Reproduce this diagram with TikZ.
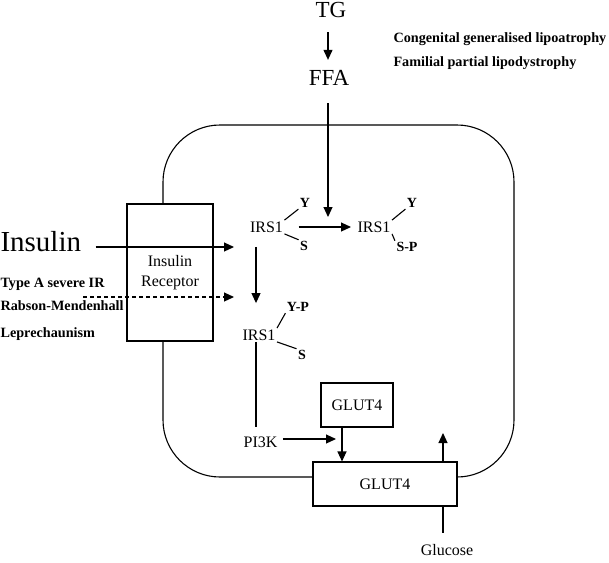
\documentclass[tikz,border=0pt]{standalone}
\usepackage{fontspec}
\setmainfont{Liberation Serif}
\usetikzlibrary{arrows.meta}

\begin{document}
\begin{tikzpicture}[x=1pt, y=-1pt,
    line width=1.1pt,
    >={Triangle[length=10pt,width=9pt]},
    every node/.style={inner sep=1pt, font=\fontsize{16}{20}\selectfont},
    bigtext/.style={font=\fontsize{23}{25}\selectfont},
    hugetext/.style={font=\fontsize{29}{31}\selectfont, inner sep=0pt},
    note/.style={font=\bfseries\fontsize{14.2}{16}\selectfont, anchor=base west, inner sep=0pt},
    site/.style={font=\bfseries\fontsize{14}{15}\selectfont},
    box/.style={draw, fill=white, inner sep=0pt, align=center}]

\useasboundingbox (0,0) rectangle (609,562);

% cell
\draw[rounded corners=57pt] (163,125) rectangle (514,477);

\node[bigtext] (tg) at (331,10) {TG};
\node[bigtext] (ffa) at (329,78) {FFA};
\node[note] (cgl) at (393,42) {Congenital generalised lipoatrophy};
\node[note] (fpl) at (393,66) {Familial partial lipodystrophy};

\node[hugetext, anchor=west] (insulin) at (0,242) {Insulin};
\node[note] (typea) at (0,287) {Type A severe IR};
\node[note] (rabson) at (0,310) {Rabson-Mendenhall};
\node[note] (lep) at (0,337) {Leprechaunism};

\node[box, minimum width=86pt, minimum height=137pt] (rec) at (170,272.5) {Insulin\\Receptor};

\node (irsa) at (266.5,227) {IRS1};
\node[site] (ya) at (305,203) {Y};
\node[site] (sa) at (304,246) {S};

\node (irsb) at (374,227) {IRS1};
\node[site] (yb) at (412,203) {Y};
\node[site] (spb) at (407,247) {S-P};

\node (irsc) at (259,335) {IRS1};
\node[site] (ypc) at (298,307) {Y-P};
\node[site] (sc) at (302,355) {S};

\node (pik) at (260.5,442) {PI3K};
\node[box, minimum width=72pt, minimum height=44pt] (glutsm) at (357,405) {GLUT4};
\node[box, minimum width=144pt, minimum height=44pt] (glutbig) at (385,484) {GLUT4};
\node (glucose) at (447,550) {Glucose};

\coordinate (ffaend) at (328,217);
\coordinate (insend) at (234,247);
\coordinate (dashstart) at (83,297);
\coordinate (dashend) at (234,297);
\coordinate (irsaxis) at (256,0);
\coordinate (pikend) at (336,439);
\coordinate (glutaxis) at (342,0);
\coordinate (outend) at (443,433);

\draw[->, shorten <=13pt, shorten >=9pt] (tg.south -| ffaend) -- (ffa.north -| ffaend);
\draw[->, shorten <=16pt] (ffa.south -| ffaend) -- (ffaend);

\draw[->, shorten <=14pt] (insulin.east |- insend) -- (insend);
\draw[->, dash pattern=on 4pt off 3pt] (dashstart) -- (dashend);

\draw (irsa.north east) -- (ya.south west);
\draw (irsa.south east) -- (sa.north west);
\draw (irsb.north east) -- (yb.south west);
\draw (irsb.south east) -- (spb.north west);
\draw (irsc.north east) -- (ypc.south west);
\draw (irsc.south east) -- (sc.north west);

\draw[->, shorten <=14pt, shorten >=5pt] (irsa.east) -- (irsb.west);
\draw[->, shorten <=13pt, shorten >=25pt] (irsa.south -| irsaxis) -- (irsc.north -| irsaxis);
\draw[shorten >=8pt] (irsc.south -| irsaxis) -- (pik.north -| irsaxis);

\draw[->, shorten <=4pt] (pik.east |- pikend) -- (pikend);
\draw[->] (glutsm.south -| glutaxis) -- (glutbig.north -| glutaxis);
\draw[->] (glutbig.north -| outend) -- (outend);
\draw[shorten <=10pt] (glucose.north -| outend) -- (glutbig.south -| outend);

\end{tikzpicture}
\end{document}
